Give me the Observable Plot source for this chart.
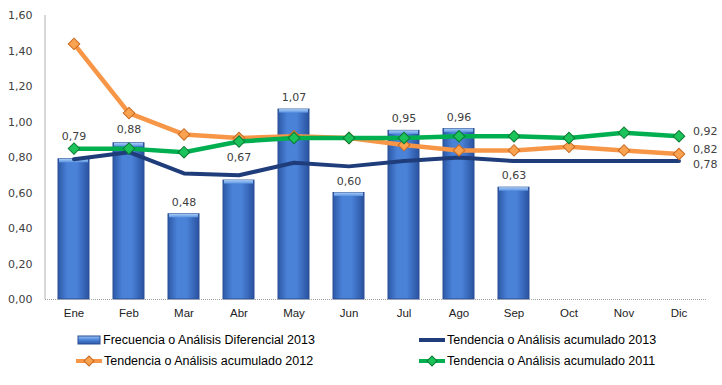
<!DOCTYPE html>
<html>
<head>
<meta charset="utf-8">
<script src="https://cdn.jsdelivr.net/npm/d3@7"></script>
<script src="https://cdn.jsdelivr.net/npm/@observablehq/plot@0.6"></script>
<style>
  html, body { margin: 0; padding: 0; background: #fff; }
  #wrap { position: relative; width: 722px; height: 385px; overflow: hidden; }
  .leg { position: absolute; display: flex; align-items: center; font-family: "Liberation Sans", Arial, sans-serif; font-size: 12.5px; color: #000; white-space: nowrap; }
  .leg svg { display: block; }
</style>
</head>
<body>
<div id="wrap"></div>
<script>
const months = ["Ene","Feb","Mar","Abr","May","Jun","Jul","Ago","Sep","Oct","Nov","Dic"];
const freq2013 = [0.79,0.88,0.48,0.67,1.07,0.60,0.95,0.96,0.63];
const acum2013 = [0.79,0.83,0.71,0.70,0.77,0.75,0.78,0.80,0.78,0.78,0.78,0.78];
const acum2012 = [1.44,1.05,0.93,0.91,0.92,0.91,0.87,0.84,0.84,0.86,0.84,0.82];
const acum2011 = [0.85,0.85,0.83,0.89,0.91,0.91,0.91,0.92,0.92,0.91,0.94,0.92];
const yTicks = [0,0.2,0.4,0.6,0.8,1.0,1.2,1.4,1.6];
const seriesNames = [
  "Frecuencia o Análisis Diferencial 2013",
  "Tendencia o Análisis acumulado 2013",
  "Tendencia o Análisis acumulado 2012",
  "Tendencia o Análisis acumulado 2011"
];

const fmt = v => d3.format(".2f")(v).replace(".", ",");
const bars = freq2013.map((v, i) => ({month: months[i], value: v}));
const toRows = arr => arr.map((v, i) => ({month: months[i], value: v}));
const r2013 = toRows(acum2013), r2012 = toRows(acum2012), r2011 = toRows(acum2011);
const last = arr => [arr[arr.length - 1]];

const raised = new Set(["Ene", "Abr"]);
const labelFont = {fontFamily: "DejaVu Sans, sans-serif", fontSize: 11, fill: "#404040"};

const plot = Plot.plot({
  width: 722,
  height: 325,
  marginLeft: 45,
  marginRight: 15,
  marginTop: 15,
  marginBottom: 26,
  x: {domain: months, paddingInner: 0.44, paddingOuter: 0.22, label: null},
  y: {domain: [0, 1.6], label: null},
  style: {fontFamily: "DejaVu Sans, sans-serif", background: "transparent", overflow: "visible"},
  marks: [
    Plot.axisY({ticks: yTicks, tickFormat: fmt, tickSize: 0, tickPadding: 13, fontSize: 11, fill: "#404040", fontFamily: "DejaVu Sans, sans-serif"}),
    Plot.axisX({tickSize: 0, tickPadding: 9, fontSize: 11.5, fill: "#222", fontFamily: "Liberation Sans, Arial, sans-serif"}),
    Plot.barY(bars, {x: "month", y: "value", fill: "url(#barGrad)", stroke: "#2b4f95", strokeWidth: 1}),
    Plot.barY(bars, {x: "month", y1: "value", y2: d => d.value - 0.02, fill: "url(#barTop)", insetLeft: 1, insetRight: 1}),
    Plot.ruleY([0], {stroke: "#a0a0a0", strokeDasharray: "1,1"}),
    Plot.text(bars.filter(d => !raised.has(d.month) && d.month !== "Feb"), {x: "month", y: "value", text: d => fmt(d.value), dy: -12, ...labelFont}),
    Plot.text(bars.filter(d => d.month === "Feb"), {x: "month", y: "value", text: d => fmt(d.value), dy: -14, ...labelFont}),
    Plot.text(bars.filter(d => raised.has(d.month)), {x: "month", y: "value", text: d => fmt(d.value), dy: -23, ...labelFont}),
    Plot.line(r2013, {x: "month", y: "value", stroke: "#1f3d7a", strokeWidth: 4}),
    Plot.line(r2012, {x: "month", y: "value", stroke: "#f79646", strokeWidth: 4.5}),
    Plot.dot(r2012, {x: "month", y: "value", symbol: "square", rotate: 45, r: 4.6, fill: "#f9a24f", stroke: "#c8681f", strokeWidth: 1}),
    Plot.line(r2011, {x: "month", y: "value", stroke: "#00b050", strokeWidth: 4.5}),
    Plot.dot(r2011, {x: "month", y: "value", symbol: "square", rotate: 45, r: 4.6, fill: "#1cc35a", stroke: "#0a7a34", strokeWidth: 1}),
    Plot.text(last(r2011), {x: "month", y: "value", text: d => fmt(d.value), textAnchor: "start", dx: 14, dy: -5, ...labelFont}),
    Plot.text(last(r2012), {x: "month", y: "value", text: d => fmt(d.value), textAnchor: "start", dx: 14, dy: -4, ...labelFont}),
    Plot.text(last(r2013), {x: "month", y: "value", text: d => fmt(d.value), textAnchor: "start", dx: 14, dy: 3, ...labelFont})
  ]
});

// gradients for the bars
const svgSel = d3.select(plot);
const defs = svgSel.insert("defs", ":first-child");
const g1 = defs.append("linearGradient").attr("id", "barGrad").attr("x1", "0").attr("x2", "1").attr("y1", "0").attr("y2", "0");
[["0%", "#2c58a6"], ["30%", "#4a82d8"], ["60%", "#4a82d8"], ["100%", "#2a52a0"]].forEach(([o, c]) => g1.append("stop").attr("offset", o).attr("stop-color", c));
const g2 = defs.append("linearGradient").attr("id", "barTop").attr("x1", "0").attr("x2", "0").attr("y1", "0").attr("y2", "1");
[["0%", "#a9cdf7"], ["100%", "#5b93e0"]].forEach(([o, c]) => g2.append("stop").attr("offset", o).attr("stop-color", c));

// left axis line from the plot's scales
const xs = plot.scale("x").range, ys = plot.scale("y").range;
svgSel.append("line").attr("x1", xs[0]).attr("x2", xs[0]).attr("y1", ys[0]).attr("y2", ys[1]).attr("stroke", "#b0b0b0").attr("stroke-width", 1);

const wrap = document.getElementById("wrap");
wrap.appendChild(plot);

function icon(kind, color, fill, stroke) {
  if (kind === "bar") {
    return `<svg width="24" height="10"><defs><linearGradient id="lg" x1="0" x2="0" y1="0" y2="1"><stop offset="0" stop-color="#9cc3f2"/><stop offset="0.5" stop-color="#4a82d8"/><stop offset="1" stop-color="#2c58a6"/></linearGradient></defs><rect x="1" y="1" width="22" height="8" fill="url(#lg)" stroke="#2b4f95"/></svg>`;
  }
  let s = `<svg width="26" height="12"><line x1="0" x2="26" y1="6" y2="6" stroke="${color}" stroke-width="4"/>`;
  if (kind === "marker") s += `<rect x="9.5" y="2.5" width="7" height="7" fill="${fill}" stroke="${stroke}" transform="rotate(45 13 6)"/>`;
  return s + `</svg>`;
}
const legendItems = [
  {left: 77, top: 333, html: icon("bar")},
  {left: 419, top: 333, html: icon("line", "#1f3d7a")},
  {left: 76, top: 354, html: icon("marker", "#f79646", "#f9a24f", "#c8681f")},
  {left: 419, top: 354, html: icon("marker", "#00b050", "#1cc35a", "#0a7a34")}
];
legendItems.forEach((it, i) => {
  const d = document.createElement("div");
  d.className = "leg";
  d.style.left = it.left + "px";
  d.style.top = it.top + "px";
  d.innerHTML = it.html + `<span style="margin-left:2px">${seriesNames[i]}</span>`;
  wrap.appendChild(d);
});
</script>
</body>
</html>
